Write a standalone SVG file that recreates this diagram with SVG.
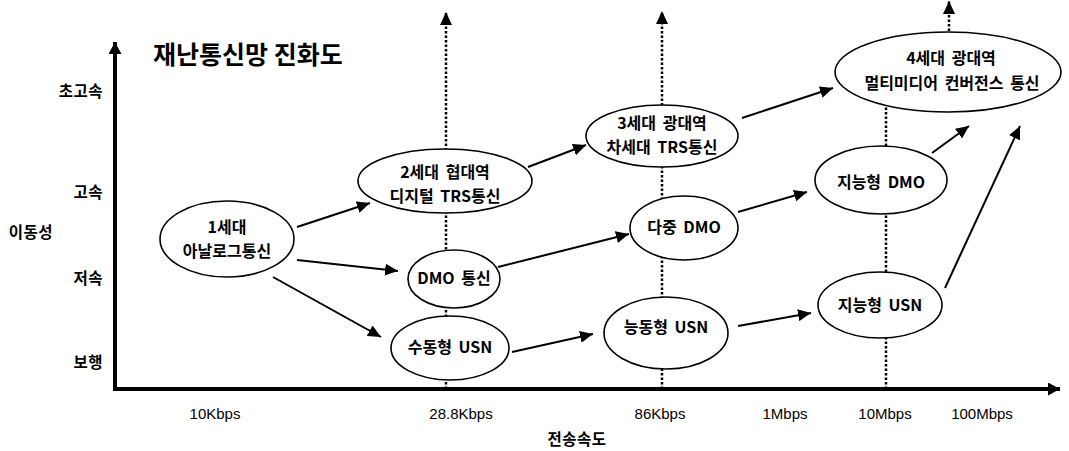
<svg xmlns="http://www.w3.org/2000/svg" width="1069" height="451" viewBox="0 0 1069 451">
<style>
.t{font-family:"Noto Sans CJK KR","Noto Sans",sans-serif;font-weight:bold;font-size:16px;fill:#000;text-anchor:middle;word-spacing:3px}
.ax{font-family:"Noto Sans CJK KR","Noto Sans",sans-serif;font-weight:bold;font-size:15.5px;fill:#000;text-anchor:end;letter-spacing:0.5px}
.sp{font-family:"Liberation Sans","Noto Sans CJK KR",sans-serif;font-size:15px;fill:#000;text-anchor:middle}
.title{font-family:"Noto Sans CJK KR","Noto Sans",sans-serif;font-weight:bold;font-size:25px;fill:#000}
.e{fill:#fff;stroke:#000;stroke-width:1.6}
.c{stroke:#000;stroke-width:2;fill:none}
.d{stroke:#000;stroke-width:2.5;stroke-dasharray:2.5 2;fill:none}
.axis{stroke:#000;stroke-width:4;fill:none}
</style>
<defs>
<marker id="ah" markerUnits="userSpaceOnUse" markerWidth="14" markerHeight="12" refX="13" refY="6" orient="auto">
<path d="M0,0 L13,6 L0,12 z" fill="#000"/>
</marker>
<marker id="axh" markerUnits="userSpaceOnUse" markerWidth="13" markerHeight="13" refX="12" refY="6.5" orient="auto">
<path d="M0,0 L12,6.5 L0,13 z" fill="#000"/>
</marker>
</defs>
<rect width="1069" height="451" fill="#fff"/>
<text class="title" x="153" y="64">재난통신망 진화도</text>
<g id="axes">
<line class="axis" x1="115" y1="391" x2="115" y2="42" marker-end="url(#axh)"/>
<line class="axis" x1="113" y1="389" x2="1060" y2="389" marker-end="url(#axh)"/>
<text class="ax" x="103" y="97">초고속</text>
<text class="ax" x="103" y="198">고속</text>
<text class="ax" x="53" y="238">이동성</text>
<text class="ax" x="103" y="284">저속</text>
<text class="ax" x="103" y="368">보행</text>
<text class="sp" x="215" y="419">10Kbps</text>
<text class="sp" x="461" y="419">28.8Kbps</text>
<text class="sp" x="660" y="419">86Kbps</text>
<text class="sp" x="785" y="419">1Mbps</text>
<text class="sp" x="885" y="419">10Mbps</text>
<text class="sp" x="982" y="419">100Mbps</text>
<text class="ax" x="577" y="445" style="text-anchor:middle">전송속도</text>
</g>
<g id="connectors">
<line class="d" x1="446" y1="389" x2="446" y2="12" marker-end="url(#ah)"/>
<line class="d" x1="662" y1="389" x2="662" y2="11" marker-end="url(#ah)"/>
<line class="d" x1="886" y1="389" x2="886" y2="100"/>
<line class="d" x1="949" y1="40" x2="949" y2="1" marker-end="url(#ah)"/>
<line class="c" x1="297" y1="227" x2="370" y2="203" marker-end="url(#ah)"/>
<line class="c" x1="297" y1="260" x2="398" y2="271" marker-end="url(#ah)"/>
<line class="c" x1="273" y1="277" x2="381" y2="337" marker-end="url(#ah)"/>
<line class="c" x1="528" y1="167" x2="586" y2="145" marker-end="url(#ah)"/>
<line class="c" x1="498" y1="267" x2="629" y2="234" marker-end="url(#ah)"/>
<line class="c" x1="512" y1="352" x2="593" y2="334" marker-end="url(#ah)"/>
<line class="c" x1="738" y1="326" x2="811" y2="313" marker-end="url(#ah)"/>
<line class="c" x1="738" y1="212" x2="807" y2="192" marker-end="url(#ah)"/>
<line class="c" x1="742" y1="118" x2="833" y2="88" marker-end="url(#ah)"/>
<line class="c" x1="932" y1="153" x2="969" y2="126" marker-end="url(#ah)"/>
<line class="c" x1="945" y1="288" x2="1020" y2="126" marker-end="url(#ah)"/>
</g>
<g id="n1"><ellipse class="e" cx="227" cy="239" rx="67" ry="38"/><text class="t" x="227" y="233">1세대</text><text class="t" x="227" y="257">아날로그통신</text></g>
<g id="n2"><ellipse class="e" cx="445" cy="181" rx="87" ry="32"/><text class="t" x="445" y="178">2세대 협대역</text><text class="t" x="445" y="202">디지털 TRS통신</text></g>
<g id="n3"><ellipse class="e" cx="662" cy="136" rx="76" ry="31"/><text class="t" x="662" y="129">3세대 광대역</text><text class="t" x="662" y="153">차세대 TRS통신</text></g>
<g id="n4"><ellipse class="e" cx="948" cy="72" rx="113" ry="40"/><text class="t" x="951" y="64">4세대 광대역</text><text class="t" x="952" y="89">멀티미디어 컨버전스 통신</text></g>
<g id="n5"><ellipse class="e" cx="454" cy="279" rx="46" ry="29"/><text class="t" x="454" y="284">DMO 통신</text></g>
<g id="n6"><ellipse class="e" cx="450" cy="348" rx="59" ry="32"/><text class="t" x="450" y="353">수동형 USN</text></g>
<g id="n7"><ellipse class="e" cx="684" cy="228" rx="54" ry="32"/><text class="t" x="684" y="233">다중 DMO</text></g>
<g id="n8"><ellipse class="e" cx="666" cy="333" rx="62" ry="36"/><text class="t" x="666" y="333">능동형 USN</text></g>
<g id="n9"><ellipse class="e" cx="881" cy="180" rx="66" ry="34"/><text class="t" x="881" y="188">지능형 DMO</text></g>
<g id="n10"><ellipse class="e" cx="880" cy="305" rx="62" ry="33"/><text class="t" x="880" y="311">지능형 USN</text></g>
</svg>
